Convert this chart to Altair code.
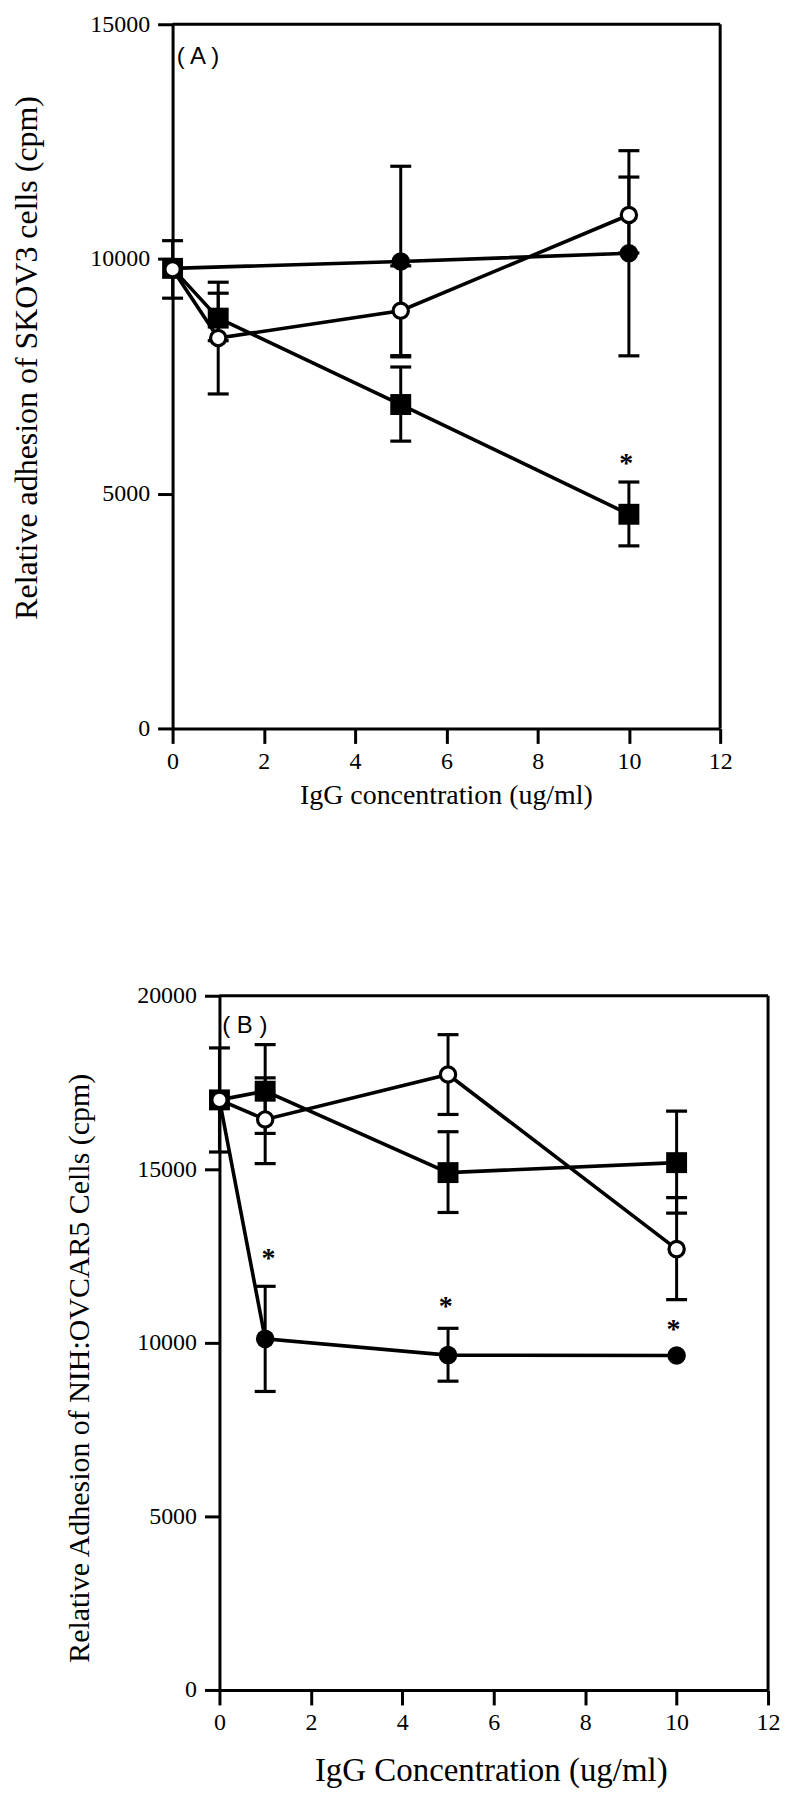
import altair as alt
import pandas as pd

SERIF = "Liberation Serif"
SANS = "Liberation Sans"

# ---------------- Panel A : SKOV3 ----------------
a_conc = [0, 1, 5, 10]
a_square = [9800, 8740, 6900, 4562]
a_open = [9780, 8315, 8897, 10937]
a_filled_conc = [0, 5, 10]
a_filled = [9800, 9945, 10122]
a_err_x = [0, 1, 1, 5, 5, 5, 10, 10, 10]
a_err_lo = [9165, 8260, 7125, 7915, 7941, 6120, 7937, 10129, 3889]
a_err_hi = [10390, 9271, 9505, 11975, 9853, 7699, 12307, 11745, 5249]
a_star_x = [9.94]
a_star_y = [5731]
a_yticks = [0, 5000, 10000, 15000]
a_ymax = 15000

# ---------------- Panel B : NIH:OVCAR5 ----------------
b_conc = [0, 1, 5, 10]
b_square = [17000, 17250, 14905, 15192]
b_open = [17000, 16437, 17730, 12701]
b_filled = [17000, 10115, 9647, 9635]
b_err_x = [0, 1, 1, 1, 5, 5, 5, 10, 10]
b_err_lo = [15498, 16034, 15164, 8600, 16580, 13756, 8896, 13736, 11244]
b_err_hi = [18497, 18592, 17635, 11629, 18879, 16083, 10419, 16676, 14186]
b_star_x = [1.07, 4.95, 9.93]
b_star_y = [12557, 11181, 10519]
b_yticks = [0, 5000, 10000, 15000, 20000]
b_ymax = 20000

x_ticks = [0, 2, 4, 6, 8, 10, 12]


def panel(sq_x, sq_y, op_x, op_y, fi_x, fi_y, ex, elo, ehi, sx, sy,
          label, lx, ly, ymax, yticks, width, height, xrange, yoff,
          xtitle, xtitle_size, xtitle_x, xtitle_y,
          ytitle, ytitle_size, ytitle_x, ytitle_y):
    xscale = alt.Scale(domain=[0, 12], range=xrange, nice=False, zero=False)
    yscale = alt.Scale(domain=[0, ymax], nice=False)
    xaxis = alt.Axis(values=x_ticks, format="d", title=xtitle, titleFont=SERIF,
                     titleFontSize=xtitle_size, titleFontWeight="normal",
                     titleX=xtitle_x, titleY=xtitle_y, titleBaseline="middle",
                     labelFont=SERIF, labelFontSize=24, labelPadding=6,
                     labelFlush=False, labelOverlap=False,
                     tickSize=15, tickWidth=3, domainWidth=3, grid=False)
    yaxis = alt.Axis(values=yticks, format="d", title=ytitle, titleFont=SERIF,
                     titleFontSize=ytitle_size, titleFontWeight="normal",
                     titleX=ytitle_x, titleY=ytitle_y, titleBaseline="middle",
                     labelFont=SERIF, labelFontSize=24, labelPadding=8,
                     labelFlush=False, labelOverlap=False,
                     tickSize=15, tickWidth=3, domainWidth=3, grid=False,
                     offset=yoff)

    def X(f="x"):
        return alt.X(f"{f}:Q", scale=xscale, axis=xaxis)

    def Y(f="y"):
        return alt.Y(f"{f}:Q", scale=yscale, axis=yaxis)

    lines = pd.concat([
        pd.DataFrame({"x": sq_x, "y": sq_y, "s": "sq"}),
        pd.DataFrame({"x": op_x, "y": op_y, "s": "op"}),
        pd.DataFrame({"x": fi_x, "y": fi_y, "s": "fi"}),
    ])
    err = pd.DataFrame({"x": ex, "lo": elo, "hi": ehi})
    caps = pd.DataFrame({"x": ex + ex, "y": elo + ehi})
    top = pd.DataFrame({"x": [0], "x2": [12], "y": [ymax]})
    right = pd.DataFrame({"x": [12], "y": [0], "y2": [ymax]})
    stars = pd.DataFrame({"x": sx, "y": sy, "t": ["*"] * len(sx)})
    lab = pd.DataFrame({"x": [lx], "y": [ly], "t": [label]})

    l_top = alt.Chart(top).mark_rule(color="black", strokeWidth=3).encode(
        x=X(), x2="x2:Q", y=Y())
    l_right = alt.Chart(right).mark_rule(color="black", strokeWidth=3).encode(
        x=X(), y=Y(), y2="y2:Q")
    l_lines = alt.Chart(lines).mark_line(color="black", strokeWidth=3.6).encode(
        x=X(), y=Y(), detail="s:N", order="x:Q")
    l_err = alt.Chart(err).mark_rule(color="black", strokeWidth=3).encode(
        x=X(), y=Y("lo"), y2="hi:Q")
    l_caps = alt.Chart(caps).mark_tick(color="black", orient="horizontal",
                                       size=21, thickness=3.2, opacity=1).encode(
        x=X(), y=Y())
    l_fi = alt.Chart(lines[lines.s == "fi"]).mark_point(
        shape="circle", filled=True, color="black", size=345, opacity=1).encode(x=X(), y=Y())
    l_sq = alt.Chart(lines[lines.s == "sq"]).mark_point(
        shape="square", filled=True, color="black", size=440, opacity=1).encode(x=X(), y=Y())
    l_op = alt.Chart(lines[lines.s == "op"]).mark_point(
        shape="circle", fill="white", stroke="black", strokeWidth=3.2, size=235,
        opacity=1, fillOpacity=1, strokeOpacity=1).encode(x=X(), y=Y())
    l_star = alt.Chart(stars).mark_text(font=SERIF, fontWeight="bold", fontSize=28,
                                        baseline="middle", dy=5, color="black").encode(
        x=X(), y=Y(), text="t:N")
    l_lab = alt.Chart(lab).mark_text(font=SANS, fontSize=24, align="left",
                                     baseline="middle", color="black").encode(
        x=X(), y=Y(), text="t:N")

    return alt.layer(l_top, l_right, l_lines, l_err, l_caps, l_fi, l_sq, l_op,
                     l_star, l_lab).properties(width=width, height=height)


chart_a = panel(a_conc, a_square, a_conc, a_open, a_filled_conc, a_filled,
                a_err_x, a_err_lo, a_err_hi, a_star_x, a_star_y,
                "( A )", 0.09, 14300, a_ymax, a_yticks, 549, 706, [0, 549], 0,
                "IgG concentration (ug/ml)", 28, 274, 67,
                "Relative adhesion of SKOV3 cells (cpm)", 32, -146, 334)

chart_b = panel(b_conc, b_square, b_conc, b_open, b_conc, b_filled,
                b_err_x, b_err_lo, b_err_hi, b_star_x, b_star_y,
                "( B )", 0.06, 19140, b_ymax, b_yticks, 597, 696, [47, 597], -47,
                "IgG Concentration (ug/ml)", 33, 319, 81,
                "Relative Adhesion of NIH:OVCAR5 Cells (cpm)", 30, -140, 373)

chart = alt.vconcat(chart_a, chart_b, spacing=175).properties(
    padding={"left": 3, "top": 2, "right": 5, "bottom": 0}
).configure_view(stroke=None).configure_axis(
    domainColor="black", tickColor="black", labelColor="black", titleColor="black"
)

chart.save("out.html", embed_options={"renderer": "svg", "actions": False})
